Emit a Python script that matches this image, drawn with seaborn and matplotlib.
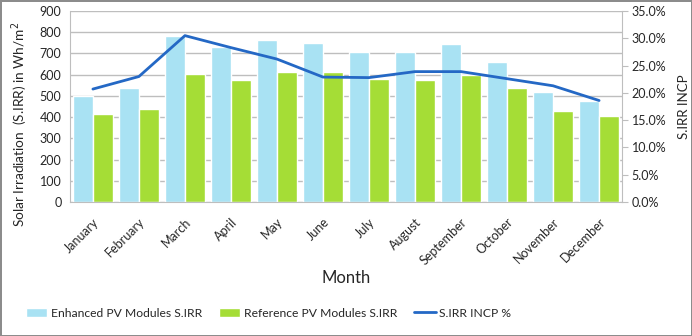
import numpy as np
import pandas as pd
import seaborn as sns
import matplotlib.pyplot as plt
from matplotlib.ticker import PercentFormatter
from matplotlib.patches import Patch
from matplotlib.lines import Line2D

# Monthly solar irradiation values
months = ["January", "February", "March", "April", "May", "June", "July",
          "August", "September", "October", "November", "December"]
enhanced = [500, 538, 782, 732, 766, 751, 705, 708, 743, 661, 520, 476]
reference = [414, 437, 602, 575, 611, 611, 578, 574, 597, 539, 429, 403]
incp = [20.7, 23.0, 30.5, 28.3, 26.2, 22.9, 22.8, 23.9, 23.9, 22.6, 21.3, 18.6]

series_names = ["Enhanced PV Modules S.IRR", "Reference PV Modules S.IRR"]
line_name = "S.IRR INCP %"

sns.set_style("white")
plt.rcParams["font.family"] = ["Lato", "DejaVu Sans"]

df = pd.DataFrame({
    "Month": months * 2,
    "value": enhanced + reference,
    "series": [series_names[0]] * 12 + [series_names[1]] * 12,
})
line_df = pd.DataFrame({"pos": np.arange(len(months)), "pct": np.array(incp) / 100})

colors = {series_names[0]: "#A9E2F3", series_names[1]: "#A5DD36"}
line_color = "#2468C5"
grid_color = "#BEBEBE"

fig = plt.figure(figsize=(6.92, 3.36), dpi=100)
fig.patch.set_edgecolor("#8C8C8C")
fig.patch.set_linewidth(2)
ax = fig.add_subplot(111)
fig.subplots_adjust(left=0.101, right=0.899, top=0.967, bottom=0.399)

sns.barplot(data=df, x="Month", y="value", hue="series", order=months,
            palette=colors, width=0.87, gap=0, saturation=1, ax=ax,
            legend=False)
ax.set_ylim(0, 900)
ax.set_yticks(range(0, 901, 100))
ax.set_xlim(-0.5, len(months) - 0.5)
ax.yaxis.grid(True, color=grid_color, linewidth=1)
ax.set_axisbelow(True)
ax.tick_params(axis="y", length=0, labelsize=9, pad=6)
ax.tick_params(axis="x", length=0, labelsize=9, pad=10)
plt.setp(ax.get_xticklabels(), rotation=45, ha="right", rotation_mode="anchor")
ax.set_xlabel("Month", fontsize=12, labelpad=2)
ax.set_ylabel("")
# y label placed by hand so it sits a little below the axes centre, as in the original
fig.text(20 / 692, 1 - 124 / 336, "Solar Irradiation  (S.IRR) in Wh/m$^2$",
         rotation=90, ha="center", va="center", fontsize=9.8)
for side in ["top", "right"]:
    ax.spines[side].set_visible(False)
for side in ["left", "bottom"]:
    ax.spines[side].set_color(grid_color)

ax2 = ax.twinx()
sns.lineplot(data=line_df, x="pos", y="pct", color=line_color, linewidth=2,
             ax=ax2, legend=False)
ax2.set_ylim(0, 0.35)
ax2.set_yticks(np.arange(0, 0.3501, 0.05))
ax2.yaxis.set_major_formatter(PercentFormatter(1.0, decimals=1))
ax2.tick_params(axis="y", length=4, color=grid_color, labelsize=9, pad=3)
ax2.set_ylabel("S.IRR INCP", fontsize=9.5)
ax2.yaxis.set_label_coords(1.102, 0.5)
ax2.set_xlabel("")
for side in ["top", "left", "bottom"]:
    ax2.spines[side].set_visible(False)
ax2.spines["right"].set_color(grid_color)

handles = [Patch(facecolor=colors[n], label=n) for n in series_names]
handles.append(Line2D([0], [0], color=line_color, linewidth=2, label=line_name))
fig.legend(handles=handles, loc="center left", bbox_to_anchor=(26 / 692, 0.068),
           ncol=3, frameon=False, fontsize=8.7,
           handlelength=1.74, handleheight=0.75, handletextpad=0.33,
           columnspacing=1.4, borderaxespad=0, borderpad=0)

fig.savefig("out.png", dpi=100)
